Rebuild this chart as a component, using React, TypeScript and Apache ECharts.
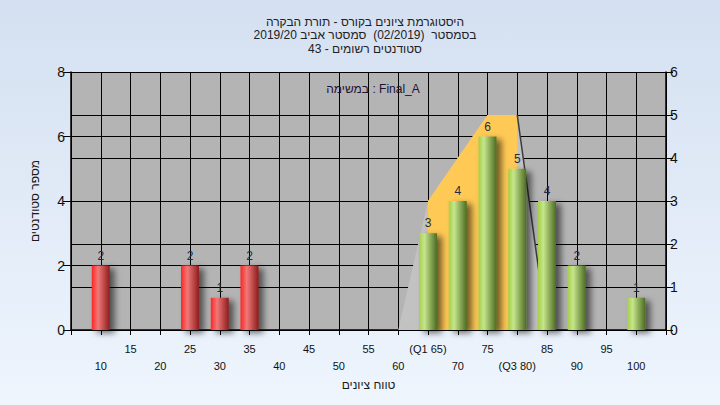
import React, { useEffect, useRef } from "react";
import * as echarts from "echarts";

const gradeBins = [10, 25, 30, 35, 65, 70, 75, 80, 85, 90, 100];
const studentCounts = [2, 2, 1, 2, 3, 4, 6, 5, 4, 2, 1];
const passThreshold = 60;
const quartileTicks = [65, 80];
const quartileNames = ["(Q1 65)", "(Q3 80)"];
const distX = [60, 65, 75, 80, 85];
const distY = [0, 3, 5, 5, 0];
const iqrX = [65, 75, 80];
const iqrY = [3, 5, 5];
const tailX = [80, 85];
const tailY = [5, 0];

const titleLines = [
  "היסטוגרמת ציונים בקורס - תורת הבקרה",
  "בסמסטר  (02/2019)  סמסטר אביב 2019/20",
  "סטודנטים רשומים - 43",
];
const legendText = "במשימה : Final_A";
const xAxisName = "טווח ציונים";
const yAxisName = "מספר סטודנטים";

const FONT = "Arial, 'Liberation Sans', 'DejaVu Sans', sans-serif";

export default function App() {
  const ref = useRef<HTMLDivElement>(null);
  useEffect(() => {
    if (!ref.current) return;
    const chart = echarts.init(ref.current, undefined, { renderer: "svg" });
    const redGrad = new echarts.graphic.LinearGradient(0, 0, 1, 0, [
      { offset: 0, color: "#ff2424" },
      { offset: 0.35, color: "#f07878" },
      { offset: 1, color: "#8e1c1c" },
    ]);
    const greenGrad = new echarts.graphic.LinearGradient(0, 0, 1, 0, [
      { offset: 0, color: "#a4cf48" },
      { offset: 0.3, color: "#c6e58c" },
      { offset: 1, color: "#4c6c22" },
    ]);
    const barData = gradeBins.map((g, i) => ({
      value: [g, studentCounts[i]],
      itemStyle: { color: g < passThreshold ? redGrad : greenGrad },
    }));
    chart.setOption({
      animation: false,
      backgroundColor: new echarts.graphic.LinearGradient(0, 0, 0, 1, [
        { offset: 0, color: "#d4e0f1" },
        { offset: 1, color: "#eef5fd" },
      ]),
      textStyle: { fontFamily: FONT },
      title: [
        {
          text: titleLines.join("\n"),
          left: 360,
          top: 10,
          textAlign: "center",
          textStyle: { fontSize: 12, fontWeight: "normal", color: "#222", lineHeight: 13.5, fontFamily: FONT },
        },
        {
          text: legendText,
          left: 368,
          top: 78,
          textAlign: "center",
          textStyle: { fontSize: 12, fontWeight: "normal", color: "#1c1236", fontFamily: FONT },
        },
      ],
      grid: { left: 71, right: 54, top: 72, bottom: 75, show: true, backgroundColor: "#b4b4b4", borderWidth: 0 },
      xAxis: {
        type: "value",
        min: 5,
        max: 105,
        interval: 5,
        name: xAxisName,
        nameLocation: "middle",
        nameGap: 45,
        nameTextStyle: { fontSize: 12, color: "#1a1a1a", fontFamily: FONT },
        axisLine: { show: true, onZero: false, lineStyle: { color: "#000", width: 1.5 } },
        axisTick: { show: true, length: 5, lineStyle: { color: "#000" } },
        splitLine: { show: true, lineStyle: { color: "#000", width: 1 } },
        axisLabel: {
          fontSize: 11,
          color: "#111",
          margin: 10,
          lineHeight: 17,
          fontFamily: FONT,
          formatter: (v: number) => {
            if (v <= 5 || v >= 105) return "";
            const qi = quartileTicks.indexOf(v);
            const txt = qi >= 0 ? quartileNames[qi] : String(v);
            return v % 10 === 5 ? txt : "\n" + txt;
          },
        },
      },
      yAxis: [
        {
          type: "value",
          min: 0,
          max: 8,
          interval: 2,
          name: yAxisName,
          nameLocation: "middle",
          nameGap: 30,
          nameRotate: 90,
          nameTextStyle: { fontSize: 12, color: "#1a1a1a", fontFamily: FONT },
          axisLine: { show: true, lineStyle: { color: "#000", width: 1.5 } },
          axisTick: { show: true, length: 8, lineStyle: { color: "#000" } },
          splitLine: { show: true, lineStyle: { color: "#000", width: 1 } },
          axisLabel: { fontSize: 14, color: "#111", margin: 6, fontFamily: FONT },
        },
        {
          type: "value",
          min: 0,
          max: 6,
          interval: 1,
          position: "right",
          axisLine: { show: true, lineStyle: { color: "#000", width: 1.5 } },
          axisTick: { show: true, length: 7, lineStyle: { color: "#000" } },
          splitLine: { show: true, lineStyle: { color: "#000", width: 1 } },
          axisLabel: { fontSize: 14, color: "#111", margin: 4, fontFamily: FONT },
        },
      ],
      series: [
        {
          type: "line",
          z: 1,
          yAxisIndex: 1,
          data: distX.map((x, i) => [x, distY[i]]),
          symbol: "none",
          lineStyle: { width: 0 },
          areaStyle: { color: "#c2c2c2", opacity: 1 },
          silent: true,
        },
        {
          type: "line",
          z: 1,
          yAxisIndex: 1,
          data: iqrX.map((x, i) => [x, iqrY[i]]),
          symbol: "none",
          lineStyle: { width: 0 },
          areaStyle: { color: "#ffc955", opacity: 1 },
          silent: true,
        },
        {
          type: "line",
          z: 1,
          yAxisIndex: 1,
          data: tailX.map((x, i) => [x, tailY[i]]),
          symbol: "none",
          lineStyle: { width: 1.5, color: "#3c3c3c" },
          silent: true,
        },
        {
          type: "bar",
          z: 3,
          yAxisIndex: 0,
          barWidth: 18,
          data: barData,
          itemStyle: {
            shadowColor: "rgba(0,0,0,0.55)",
            shadowBlur: 6,
            shadowOffsetX: 5,
            shadowOffsetY: 3,
          },
          label: {
            show: true,
            position: "top",
            distance: 4,
            fontSize: 12,
            color: "#1c2c44",
            fontFamily: FONT,
            formatter: (p: any) => String(p.value[1]),
          },
        },
      ],
    });
    return () => chart.dispose();
  }, []);
  return <div ref={ref} style={{ position: "fixed", left: 0, top: 0, width: 720, height: 405 }} />;
}
